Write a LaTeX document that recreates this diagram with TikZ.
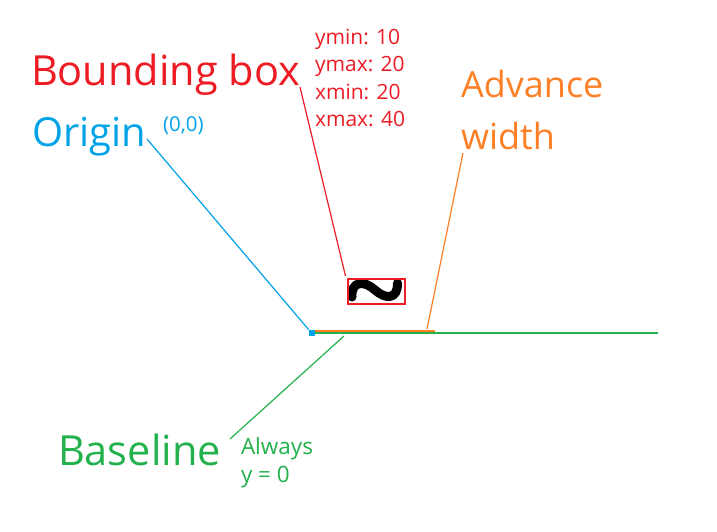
\documentclass[tikz,border=0pt]{standalone}
\usepackage{fontspec}
\setmainfont{Open Sans}
\definecolor{pred}{HTML}{ED1C24}
\definecolor{pblue}{HTML}{00A2E8}
\definecolor{porange}{HTML}{FF7F27}
\definecolor{pgreen}{HTML}{22B14C}
\tikzset{
  lbl/.style={anchor=base west,inner sep=0pt,outer sep=0pt},
  big/.style={lbl,font=\fontsize{41.5}{50}\selectfont},
  mid/.style={lbl,font=\fontsize{36}{42}\selectfont},
  small/.style={lbl,font=\fontsize{21}{25}\selectfont},
  note/.style={lbl,font=\fontsize{22.5}{26}\selectfont},
  leader/.style={line width=1.2pt}
}
\begin{document}
\begin{tikzpicture}[x=1pt,y=-1pt]
\useasboundingbox (0,0) rectangle (717,531);
% labels
\node[big,text=pred] (bb) at (31,85) {Bounding box};
\node[lbl,font=\fontsize{40}{48}\selectfont,text=pblue] (orig) at (32,146) {Origin};
\node[lbl,font=\fontsize{20.5}{24}\selectfont,text=pblue] (zero) at (163,131) {(0,0)};
\node[small,text=pred] (ymin) at (315,44) {ymin: 10};
\node[small,text=pred] (ymax) at (315,71) {ymax: 20};
\node[small,text=pred] (xmin) at (315,99) {xmin: 20};
\node[small,text=pred] (xmax) at (315,126) {xmax: 40};
\node[mid,text=porange] (adv) at (461,97) {Advance};
\node[mid,text=porange] (wid) at (461,149) {width};
\node[big,text=pgreen] (base) at (58,465) {Baseline};
\node[note,text=pgreen] (alw) at (241,454) {Always};
\node[note,text=pgreen] (yz) at (241,482) {y = 0};
% glyph and box
\draw[black,line width=9pt,line cap=round] (352,297) .. controls (351,281) and (364,280) .. (375,290) .. controls (386,300) and (398,299) .. (397.5,283);
\node[draw=pred,line width=2pt,minimum width=57pt,minimum height=25pt,inner sep=0pt,anchor=north west] (gbox) at (346.5,277.5) {};
% origin, lines
\node[fill=pblue,minimum size=6pt,inner sep=0pt] (o) at (312,333) {};
\coordinate (gstart) at (315,333);
\coordinate (gend) at (658,333);
\coordinate (astart) at (315,331);
\coordinate (aend) at (435,331);
\draw[pgreen,line width=2.2pt] (gstart) -- (gend);
\draw[porange,line width=2.2pt] (astart) -- (aend);
% leaders
\coordinate (bbl) at (300,87);
\coordinate (ol) at (147,139);
\coordinate (al) at (463,153);
\coordinate (bl) at (230,439);
\coordinate (bbe) at (345.5,276);
\coordinate (ae) at (427,329);
\coordinate (be) at (344,336);
\draw[pred,leader] (bbl) -- (bbe);
\draw[pblue,leader] (ol) -- (o.north west);
\draw[porange,leader] (al) -- (ae);
\draw[pgreen,leader] (bl) -- (be);
\end{tikzpicture}
\end{document}
